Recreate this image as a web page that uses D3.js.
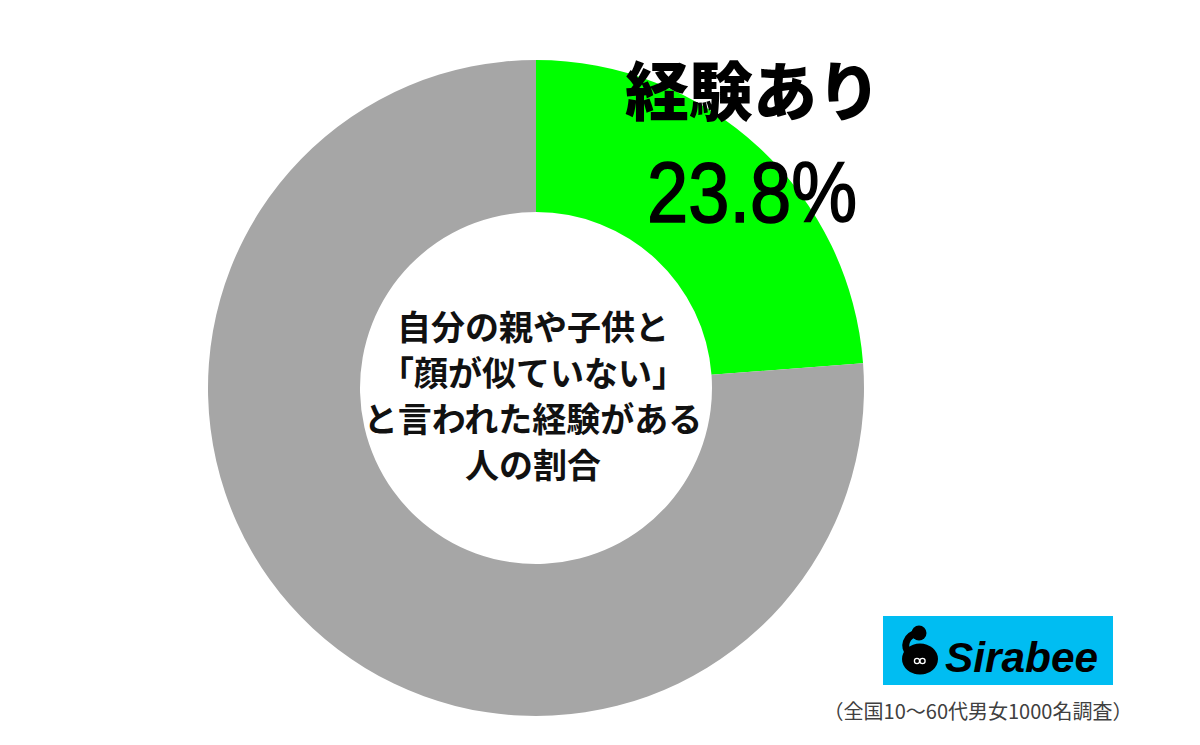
<!DOCTYPE html>
<html>
<head>
<meta charset="utf-8">
<script src="https://cdn.jsdelivr.net/npm/d3@7/dist/d3.min.js"></script>
<style>
  html, body { margin: 0; padding: 0; background: #fff; }
  svg { display: block; }
</style>
</head>
<body>
<svg id="chart" width="1200" height="745"></svg>
<script>
// ---- data ----
const categories = ["経験あり", "経験なし"];
const values = [23.8, 76.2];
const colors = ["#00FF00", "#A6A6A6"];
const centerLines = ["自分の親や子供と", "「顔が似ていない」", "と言われた経験がある", "人の割合"];
const highlightLabel = "経験あり";
const highlightValue = "23.8%";
const footnote = "（全国10〜60代男女1000名調査）";
const brand = "Sirabee";

const svg = d3.select("#chart");
const cx = 536, cy = 388, R = 328, r = 176;

const pie = d3.pie().sort(null).value(d => d)(values);
const arc = d3.arc().innerRadius(r).outerRadius(R);

const g = svg.append("g").attr("transform", `translate(${cx},${cy})`);
g.selectAll("path").data(pie).join("path")
  .attr("d", arc)
  .attr("fill", (d, i) => colors[i]);

// highlight label
svg.append("text")
  .attr("x", 753).attr("y", 115)
  .attr("text-anchor", "middle")
  .attr("font-family", "'Noto Sans CJK JP', sans-serif")
  .attr("font-weight", 900)
  .attr("font-size", 64)
  .attr("fill", "#000")
  .text(highlightLabel);

svg.append("text")
  .attr("x", 647).attr("y", 222)
  .attr("font-family", "'Liberation Sans', Arial, sans-serif")
  .attr("font-size", 86)
  .attr("textLength", 210)
  .attr("lengthAdjust", "spacingAndGlyphs")
  .attr("fill", "#000")
  .attr("stroke", "#000")
  .attr("stroke-width", 1.6)
  .text(highlightValue);

// center text
const lineY = [325, 371, 417, 463];
svg.append("g").selectAll("text").data(centerLines).join("text")
  .attr("x", 533)
  .attr("y", (d, i) => lineY[i])
  .attr("text-anchor", "middle")
  .attr("dominant-baseline", "central")
  .attr("font-family", "'Noto Sans CJK JP', sans-serif")
  .attr("font-weight", 700)
  .attr("font-size", 34)
  .attr("fill", "#111")
  .text(d => d);

// logo
const logo = svg.append("g");
logo.append("rect").attr("x", 883).attr("y", 616).attr("width", 230).attr("height", 69).attr("fill", "#00BDF2");
logo.append("ellipse").attr("cx", 920).attr("cy", 659).attr("rx", 18).attr("ry", 15.5).attr("fill", "#000");
logo.append("path")
  .attr("d", "M918,633 C905,635 903,648 909,653")
  .attr("fill", "none").attr("stroke", "#000").attr("stroke-width", 7).attr("stroke-linecap", "round");
logo.append("circle").attr("cx", 919).attr("cy", 633).attr("r", 7.5).attr("fill", "#000");
logo.append("circle").attr("cx", 917).attr("cy", 661).attr("r", 2.6).attr("fill", "none").attr("stroke", "#fff").attr("stroke-width", 1.3);
logo.append("circle").attr("cx", 922.5).attr("cy", 661).attr("r", 2.6).attr("fill", "none").attr("stroke", "#fff").attr("stroke-width", 1.3);
logo.append("text")
  .attr("x", 945).attr("y", 672)
  .attr("font-family", "'Liberation Sans', Arial, sans-serif")
  .attr("font-weight", 700)
  .attr("font-style", "italic")
  .attr("font-size", 43)
  .attr("textLength", 153)
  .attr("lengthAdjust", "spacingAndGlyphs")
  .attr("fill", "#000")
  .text(brand);

// footnote
svg.append("text")
  .attr("x", 978).attr("y", 710)
  .attr("text-anchor", "middle")
  .attr("dominant-baseline", "central")
  .attr("font-family", "'Noto Sans CJK JP', sans-serif")
  .attr("font-size", 20)
  .attr("fill", "#404040")
  .text(footnote);
</script>
</body>
</html>
